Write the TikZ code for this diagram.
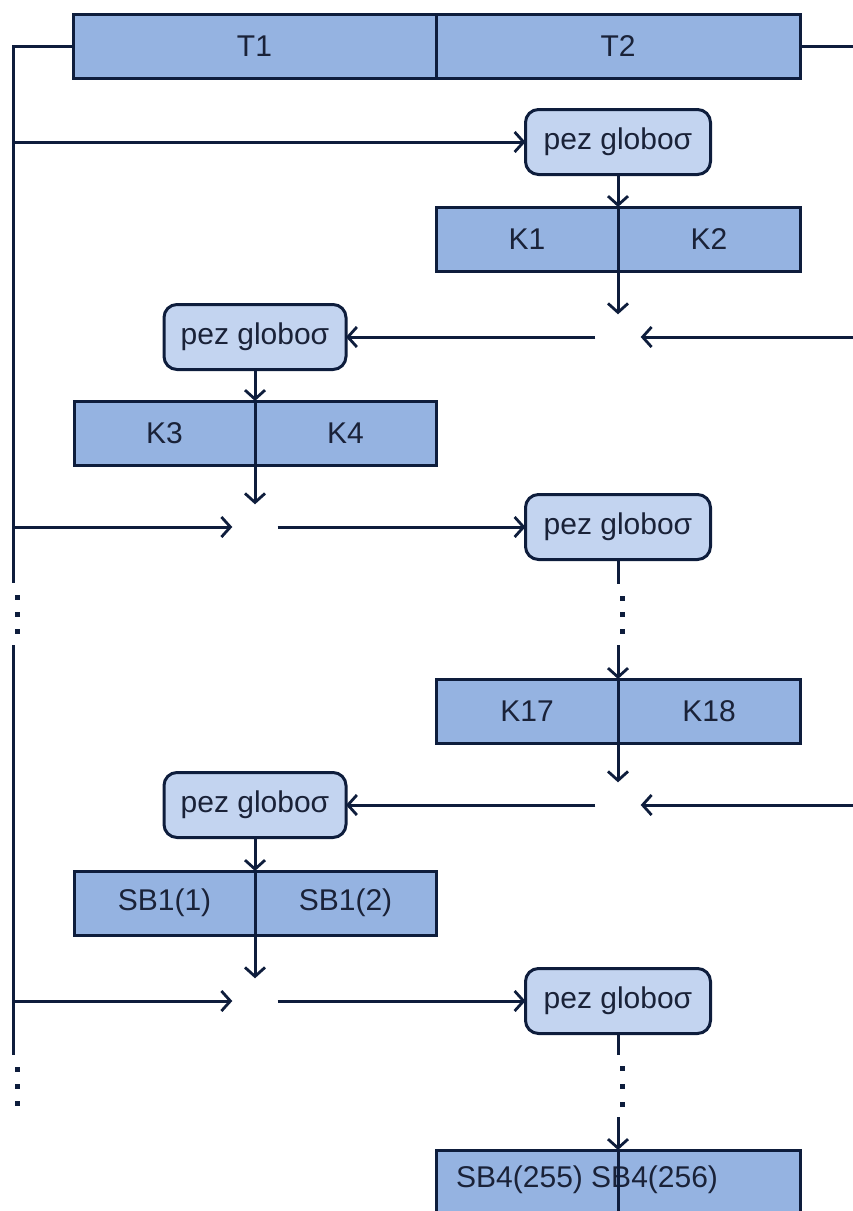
\documentclass[tikz,border=0pt]{standalone}
\usepackage{fontspec}
\setmainfont{Liberation Sans}
\usetikzlibrary{arrows.meta}

\definecolor{ink}{HTML}{0E1D3C}
\definecolor{txt}{HTML}{1A2238}
\definecolor{keyblue}{HTML}{95B3E1}
\definecolor{fishblue}{HTML}{C3D4F0}

\tikzset{
  wire/.style={draw=ink, line width=3pt},
  arr/.style={wire, -{Straight Barb[length=9pt,width=20pt,line width=2.8pt]}},
  keybox/.style={rectangle, draw=ink, line width=3pt, fill=keyblue,
    minimum width=182pt, minimum height=64pt, inner sep=0pt, outer sep=0pt,
    font=\fontsize{30}{34}\selectfont, text=txt},
  fish/.style={rectangle, rounded corners=13pt, draw=ink, line width=3pt,
    fill=fishblue, minimum width=185pt, minimum height=65pt, inner sep=0pt,
    outer sep=0pt, font=\fontsize{30}{34}\selectfont, text=txt},
  junction/.style={circle, minimum size=45pt, inner sep=0pt},
}

\begin{document}
\begin{tikzpicture}[x=1pt, y=-1pt]
\useasboundingbox (0,0) rectangle (853,1211);
\clip (0,0) rectangle (853,1211);

% plaintext block
\node[keybox, minimum width=363pt] (t1) at (254.5,46) {T1};
\node[keybox, minimum width=364pt] (t2) at (618,46) {T2};

% round 1
\node[fish] (pg1) at (618,142) {pez globoσ};
\node[keybox] (k1) at (527,239) {K1};
\node[keybox] (k2) at (709,239) {K2};
\node[junction] (x1) at (618,337) {};

% round 2
\node[fish, minimum width=182pt] (pg2) at (255,337) {pez globoσ};
\node[keybox, minimum width=181pt] (k3) at (164.5,433) {K3};
\node[keybox, minimum width=181pt] (k4) at (345.5,433) {K4};
\node[junction] (x2) at (255,527) {};
\node[fish] (pg3) at (618,527) {pez globoσ};

% round 9
\node[keybox] (k17) at (527,711) {K17};
\node[keybox] (k18) at (709,711) {K18};
\node[junction] (x3) at (618,805) {};

% output whitening
\node[fish, minimum width=182pt] (pg4) at (255,805) {pez globoσ};
\node[keybox, minimum width=181pt] (sb1a) at (164.5,903) {SB1(1)};
\node[keybox, minimum width=181pt] (sb1b) at (345.5,903) {SB1(2)};
\node[junction] (x4) at (255,1001) {};
\node[fish] (pg5) at (618,1001) {pez globoσ};

% last S-box pair
\node[keybox] (sb4a) at (527,1182) {};
\node[keybox] (sb4b) at (709,1182) {};
\node[anchor=west, inner sep=0pt, font=\fontsize{30}{34}\selectfont, text=txt]
  (sb4lbl) at (456,1180) {SB4(255) SB4(256)};

% left rail
\coordinate (r0) at (13,46);
\coordinate (r1) at (13,583);
\coordinate (r2) at (13,645);
\coordinate (r3) at (13,1055);
\draw[wire] (t1.west) -- (r0) -- (r1);
\draw[wire] (r2) -- (r3);
\draw[wire] (t2.east) -- (853,46);

% rail branches
\coordinate (b1) at (13,142);
\coordinate (b2) at (13,527);
\coordinate (b3) at (13,1001);
\draw[arr] (b1) -- (pg1.west);
\draw[arr] (b2) -- (x2.west);
\draw[arr] (x2.east) -- (pg3.west);
\draw[arr] (b3) -- (x4.west);
\draw[arr] (x4.east) -- (pg5.west);

% right side inputs
\coordinate (e1) at (853,337);
\coordinate (e2) at (853,805);
\draw[arr] (e1) -- (x1.east);
\draw[arr] (x1.west) -- (pg2.east);
\draw[arr] (e2) -- (x3.east);
\draw[arr] (x3.west) -- (pg4.east);

% vertical flow
\draw[arr] (pg1.south) -- (k1.north east);
\draw[arr] (k1.north east) -- (x1.north);
\draw[arr] (pg2.south) -- (k3.north east);
\draw[arr] (k3.north east) -- (x2.north);
\coordinate (v1) at (618,584);
\coordinate (v2) at (618,645);
\draw[wire] (pg3.south) -- (v1);
\draw[arr] (v2) -- (k17.north east);
\draw[arr] (k17.north east) -- (x3.north);
\draw[arr] (pg4.south) -- (sb1a.north east);
\draw[arr] (sb1a.north east) -- (x4.north);
\coordinate (v3) at (618,1055);
\coordinate (v4) at (618,1117);
\coordinate (v5) at (618,1220);
\draw[wire] (pg5.south) -- (v3);
\draw[arr] (v4) -- (sb4a.north east);
\draw[wire] (sb4a.north east) -- (v5);

% ellipsis dots
\foreach \x/\y in {17/597, 17/614, 17/631, 17/1069, 17/1086, 17/1103,
                   622/598, 622/614, 622/631, 622/1068, 622/1086, 622/1104}
  \fill[ink] (\x-2.5,\y-2.5) rectangle ++(5,5);
\end{tikzpicture}
\end{document}
